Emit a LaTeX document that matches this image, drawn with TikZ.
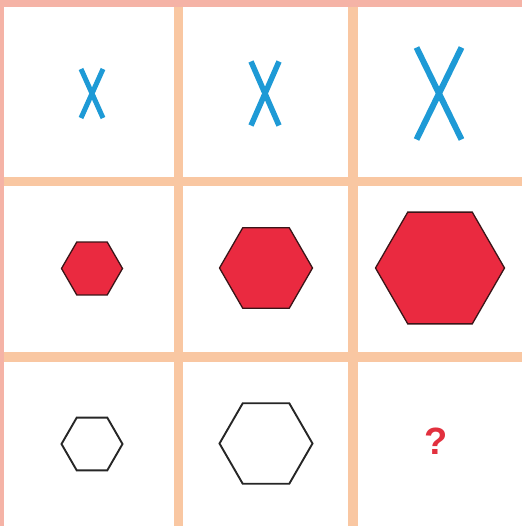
\documentclass[tikz,border=0pt]{standalone}
\usepackage{fontspec}
\setmainfont{Liberation Sans}
\usetikzlibrary{shapes.geometric}
\definecolor{pinkbg}{HTML}{F5B3A6}
\definecolor{peach}{HTML}{F9C7A2}
\definecolor{xblue}{HTML}{1E9AD6}
\definecolor{hexred}{HTML}{EA2A40}
\definecolor{hexedge}{HTML}{3A1518}
\definecolor{qred}{HTML}{E2303E}
\tikzset{
  xmark/.style={draw=xblue, line cap=butt},
  redhex/.style={regular polygon, regular polygon sides=6, fill=hexred, draw=hexedge, line width=1.3pt, inner sep=0pt, outer sep=0pt},
  whitehex/.style={regular polygon, regular polygon sides=6, draw=black!85, line width=1.9pt, inner sep=0pt, outer sep=0pt},
  cellbox/.style={fill=white},
  qmark/.style={text=qred, font=\bfseries\fontsize{38}{38}\selectfont, inner sep=0pt}
}
\begin{document}
\begin{tikzpicture}[x=1pt,y=-1pt]
\useasboundingbox (0,0) rectangle (522,526);
\fill[pinkbg] (0,0) rectangle (522,526);
\fill[peach] (4,7) rectangle (522,526);
% cells
\fill[cellbox] (4,7) rectangle (174,177);
\fill[cellbox] (183,7) rectangle (348,177);
\fill[cellbox] (358,7) rectangle (522,177);
\fill[cellbox] (4,186) rectangle (174,352);
\fill[cellbox] (183,186) rectangle (348,352);
\fill[cellbox] (358,186) rectangle (522,352);
\fill[cellbox] (4,362) rectangle (174,526);
\fill[cellbox] (183,362) rectangle (348,526);
\fill[cellbox] (358,362) rectangle (522,526);
% row 1: X marks
\coordinate (x1) at (92,93.5);
\coordinate (x2) at (265,93.5);
\coordinate (x3) at (439,93.5);
\draw[xmark, line width=5pt] (x1) ++(-11,-24.5) -- ++(22,49);
\draw[xmark, line width=5pt] (x1) ++(11,-24.5) -- ++(-22,49);
\draw[xmark, line width=5.5pt] (x2) ++(-14,-32) -- ++(28,64);
\draw[xmark, line width=5.5pt] (x2) ++(14,-32) -- ++(-28,64);
\draw[xmark, line width=6pt] (x3) ++(-22.5,-46) -- ++(45,92);
\draw[xmark, line width=6pt] (x3) ++(22.5,-46) -- ++(-45,92);
% row 2: red hexagons
\node[redhex, minimum size=61pt] (h1) at (92,268.5) {};
\node[redhex, minimum size=93pt] (h2) at (266,268) {};
\node[redhex, minimum size=129pt] (h3) at (440,268) {};
% row 3: outlined hexagons and question mark
\node[whitehex, minimum size=61pt] (w1) at (92,444) {};
\node[whitehex, minimum size=93pt] (w2) at (266,443.5) {};
\node[qmark] (q) at (436,441.5) {?};
\end{tikzpicture}
\end{document}
